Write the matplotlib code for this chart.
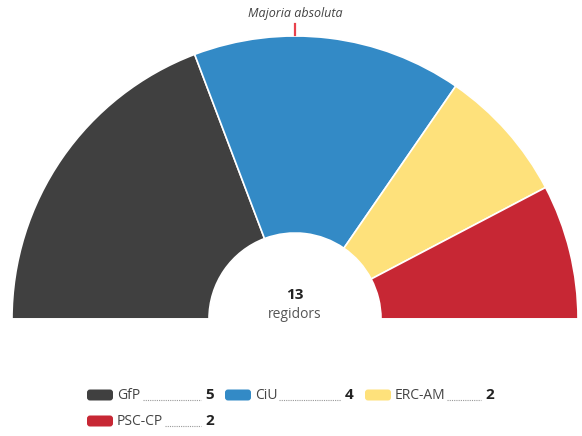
import matplotlib.pyplot as plt
from matplotlib.patches import FancyBboxPatch

partits = ["GfP", "CiU", "ERC-AM", "PSC-CP"]
regidors = [5, 4, 2, 2]
colors = ["#404040", "#338ac6", "#fee17b", "#c72734"]
total = sum(regidors)

plt.rcParams['font.family'] = ['Open Sans', 'DejaVu Sans']

fig = plt.figure(figsize=(5.82, 4.36), dpi=100)
ax = fig.add_axes([0, 0, 1, 1])

# hemicicle: pie with an invisible lower half
cx, cy = 295, 436 - 319
r_out, r_in = 283, 86
ax.pie(regidors + [total], colors=colors + ["none"], startangle=180,
       counterclock=False, radius=r_out, center=(cx, cy),
       wedgeprops=dict(width=r_out - r_in, edgecolor="white", linewidth=1.2))
ax.set_xlim(0, 582)
ax.set_ylim(0, 436)
ax.set_aspect("auto")
ax.axis("off")

# majoria absoluta
ax.plot([cx, cx], [436 - 24, 436 - 35], color="#e8424c", lw=1.6)
ax.text(cx, 436 - 14, "Majoria absoluta", ha="center", va="center",
        fontsize=9, style="italic", color="#444444")

# centre
ax.text(cx, 436 - 295, str(total), ha="center", va="center",
        fontsize=11, fontweight="bold", color="#222222")
ax.text(cx, 436 - 315, "regidors", ha="center", va="center",
        fontsize=10, color="#555555")

# llegenda
leg_x = [87, 225, 365, 87]
leg_y = [395, 395, 395, 421]
dots_start = [143, 279, 447, 165]
dots_end = [201, 341, 481, 201]
for i, name in enumerate(partits):
    x0, y0 = leg_x[i], 436 - leg_y[i]
    ax.add_patch(FancyBboxPatch((x0, y0 - 5.5), 26, 11,
                                boxstyle="round,pad=0,rounding_size=3",
                                fc=colors[i], ec="none"))
    ax.text(x0 + 30, y0, name, ha="left", va="center", fontsize=10, color="#444444")
    ax.plot([dots_start[i], dots_end[i]], [y0 - 5, y0 - 5], color="#999999",
            lw=0.8, ls=(0, (1, 1)))
    ax.text(dots_end[i] + 4, y0, str(regidors[i]), ha="left", va="center",
            fontsize=11, fontweight="bold", color="#222222")

fig.savefig("out.png", dpi=100)
